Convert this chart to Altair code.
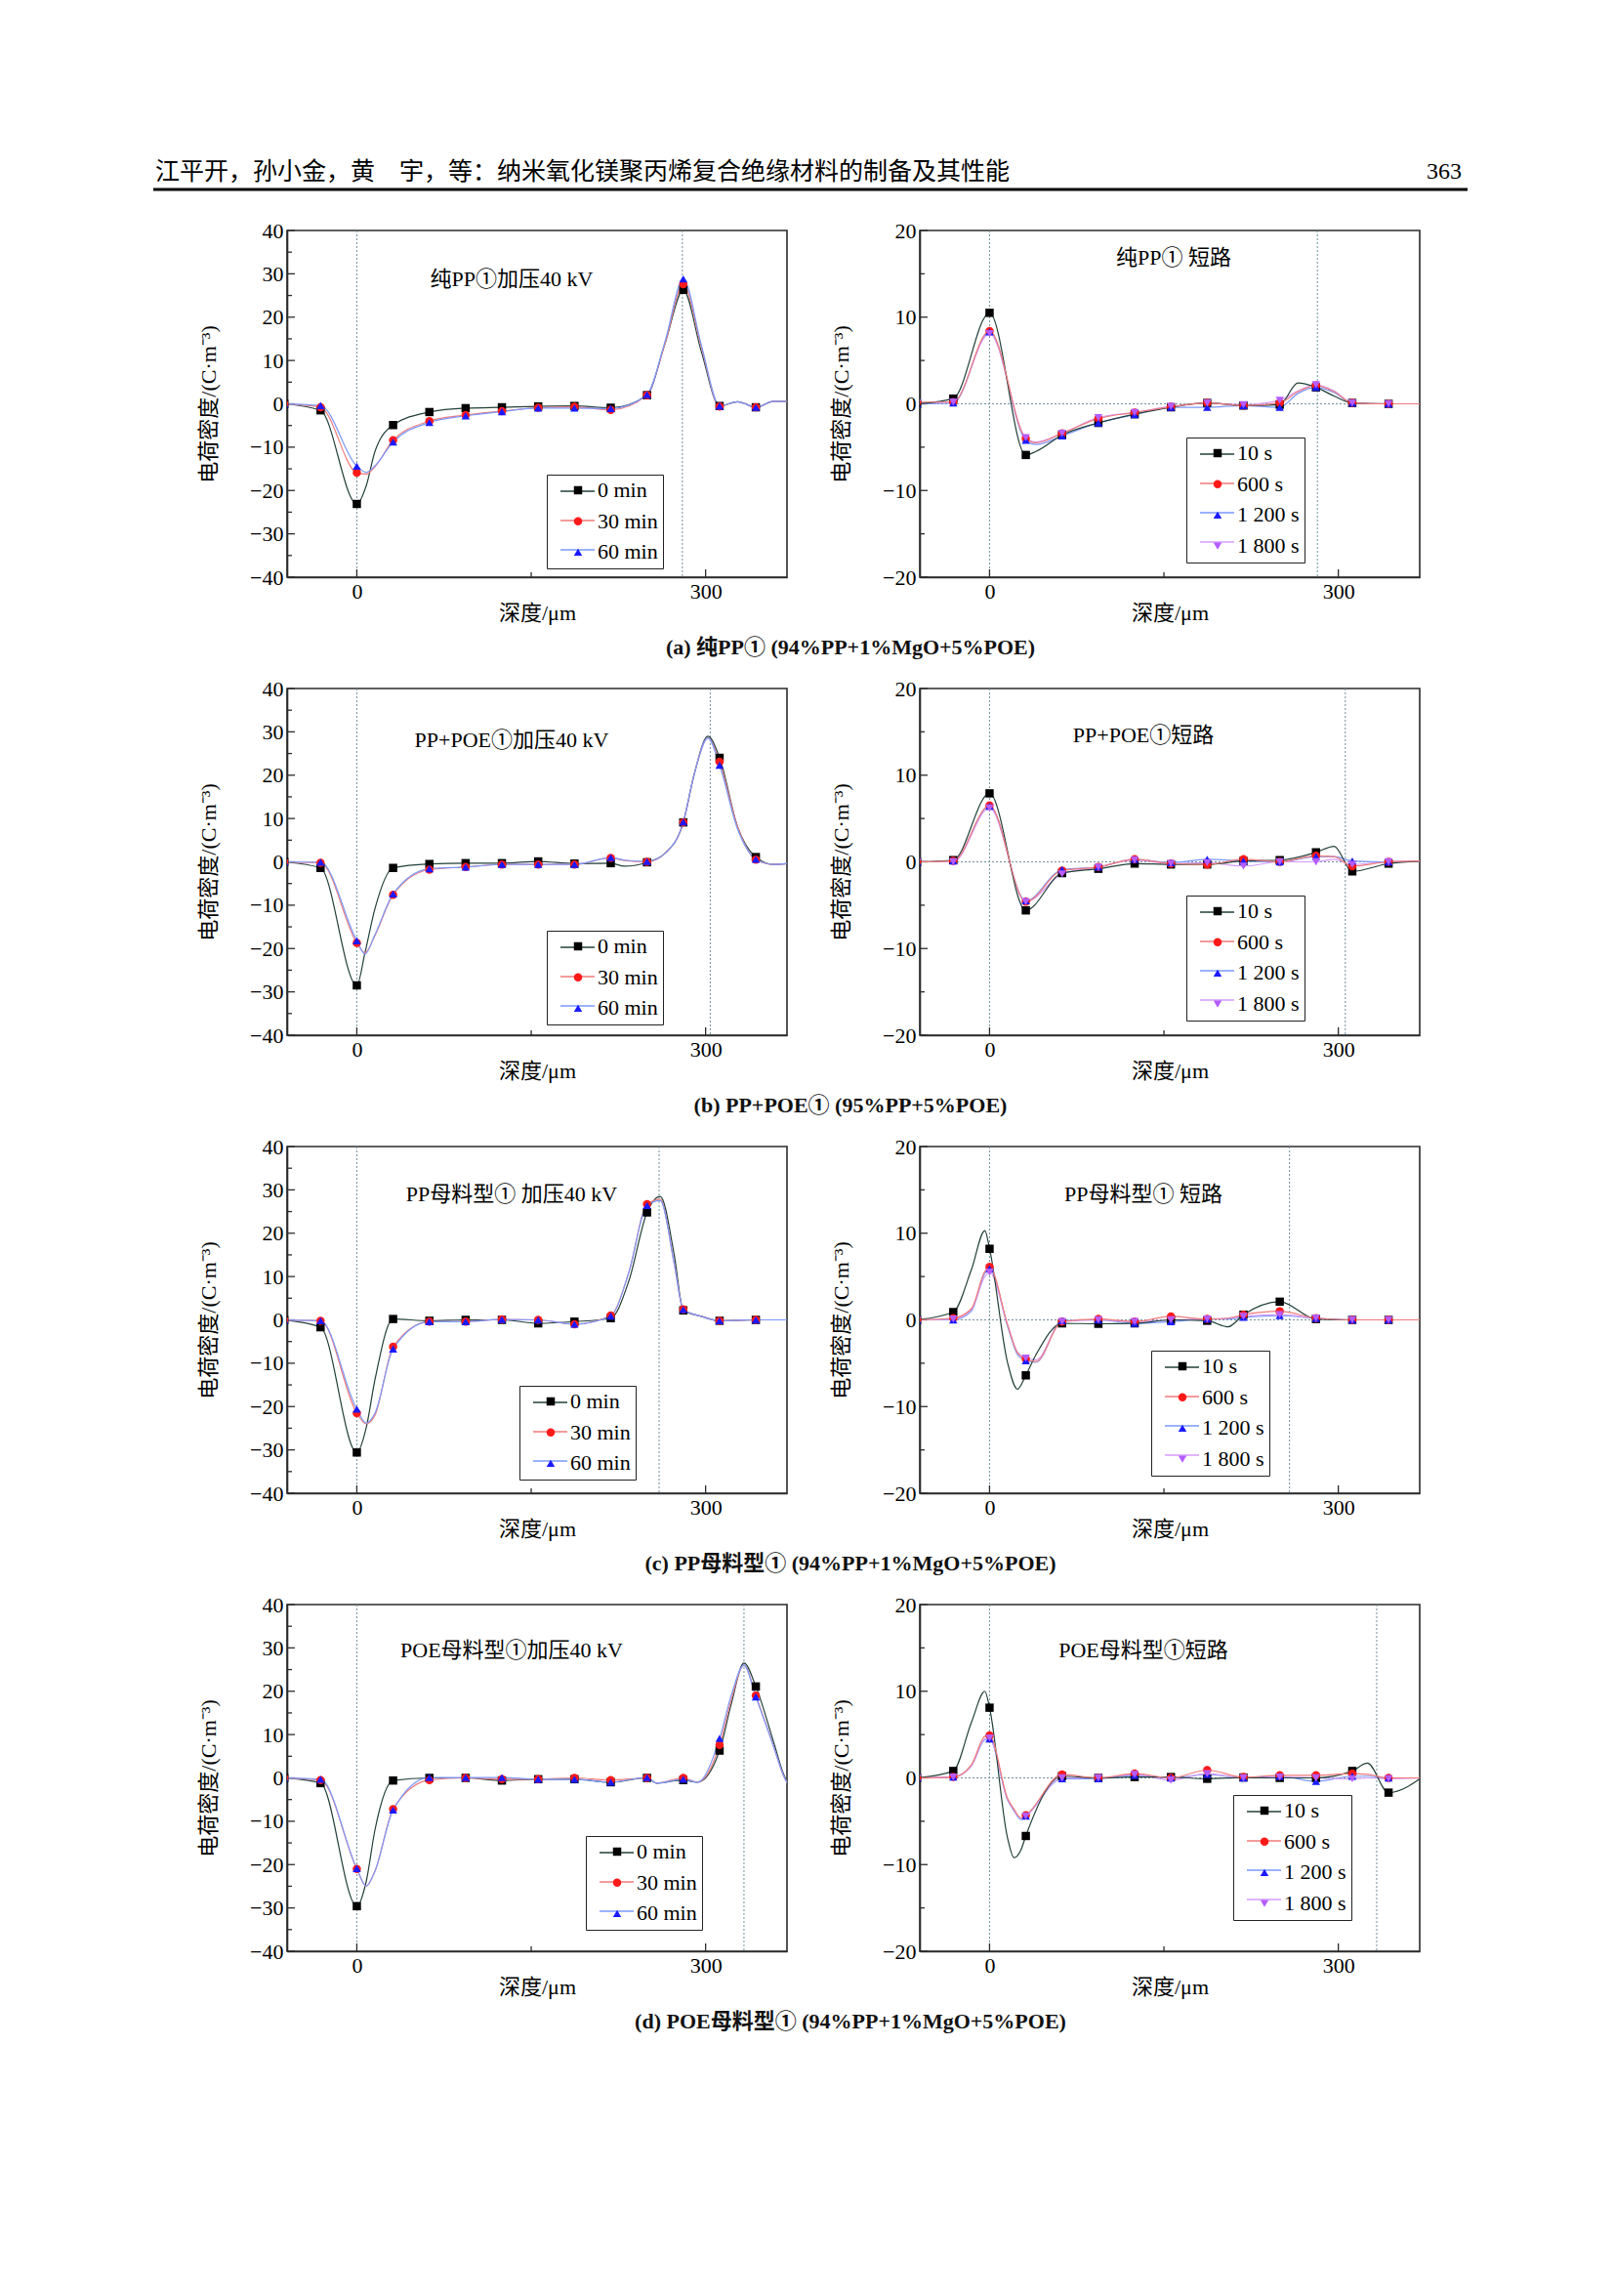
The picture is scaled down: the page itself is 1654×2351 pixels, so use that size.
import altair as alt
import pandas as pd

# depth positions of the plotted markers (µm)
X = [-62.4, -31.2, 0, 31.2, 62.4, 93.6, 124.8, 156, 187.2, 218.4, 249.6, 280.8, 312, 343.2, 374.4]

MIN_NAMES = ["0 min", "30 min", "60 min"]
SEC_NAMES = ["10 s", "600 s", "1 200 s", "1 800 s"]

# ---------- (a) 纯PP① ----------
a_left_0min = [0, -1.5, -23.1, -4.9, -1.9, -1.0, -0.8, -0.6, -0.5, -0.9, 2.0, 26.3, -0.5, -0.8, 0.5]
a_left_30min = [0, -0.8, -15.9, -8.4, -4.0, -2.6, -1.7, -0.9, -0.7, -1.4, 2.0, 27.6, -0.6, -0.8, 0.5]
a_left_60min = [0, -0.4, -14.4, -8.8, -4.3, -2.8, -1.8, -1.0, -1.0, -1.1, 2.1, 28.8, -0.5, -0.8, 0.5]
# extra curve readings between markers
a_left_xx = [8, 15.6, 265.2, 296.4, 327.6, 358.8]
a_left_0min_xx = [-19, -11, 14, 12, 0.5, 0.6]
a_left_30min_xx = [-16.2, -14.5, 14, 13, 0.5, 0.6]
a_left_60min_xx = [-15.8, -14.3, 14.5, 13.5, 0.5, 0.6]

a_right_10s = [0, 0.6, 10.5, -5.9, -3.6, -2.2, -1.2, -0.4, 0.1, -0.2, -0.1, 1.9, 0.1, 0, 0]
a_right_600s = [0.2, 0.2, 8.4, -4.0, -3.4, -1.7, -1.0, -0.35, 0.1, -0.2, 0.1, 2.1, 0.1, 0, 0]
a_right_1200s = [0, 0.1, 8.3, -4.2, -3.7, -2.2, -1.25, -0.4, -0.4, -0.2, -0.4, 1.9, 0.1, 0, 0]
a_right_1800s = [0.1, 0.2, 8.1, -3.9, -3.4, -1.6, -1.0, -0.3, 0.1, -0.1, 0.4, 2.2, 0.1, 0, 0]
a_right_xx = [40, 265.2, 296.4]
a_right_10s_xx = [-5.5, 2.4, 0.9]
a_right_600s_xx = [-4.5, 1.4, 1.4]
a_right_1200s_xx = [-4.7, 1.2, 1.3]
a_right_1800s_xx = [-4.4, 1.5, 1.5]

# ---------- (b) PP+POE① ----------
b_left_0min = [0, -1.4, -28.5, -1.4, -0.5, -0.3, -0.3, 0.1, -0.4, -0.3, -0.1, 9.1, 24.0, 1.1, -0.3]
b_left_30min = [0, -0.2, -18.7, -7.6, -1.8, -1.2, -0.6, -0.6, -0.6, 0.9, 0, 9.1, 23.1, 0.5, -0.3]
b_left_60min = [0, -0.1, -18.2, -7.4, -1.6, -1.2, -0.6, -0.6, -0.6, 1.0, 0.1, 9.2, 22.3, 0.6, -0.3]
b_left_xx = [7, 15.6, 230, 265.2, 290, 302, 327.6, 358.8]
b_left_0min_xx = [-21, -10.8, -1.0, 2, 20, 29, 8, -0.6]
b_left_30min_xx = [-21, -17, 0.3, 2, 20, 28.6, 8, -0.6]
b_left_60min_xx = [-21.3, -16.8, 0.4, 2, 20, 28.6, 7.5, -0.6]

b_right_10s = [0, 0.2, 7.9, -5.6, -1.3, -0.8, -0.2, -0.3, -0.3, 0.1, 0.2, 1.1, -1.1, -0.2, 0.1]
b_right_600s = [0, 0.1, 6.5, -4.6, -1.0, -0.6, 0.3, -0.2, -0.3, 0.3, 0, 0.7, -0.5, 0, 0.1]
b_right_1200s = [0, 0.1, 6.4, -4.5, -0.9, -0.6, 0.3, -0.1, 0.3, 0.1, 0, 0.6, 0.1, 0, 0.1]
b_right_1800s = [0, 0.0, 6.2, -4.6, -1.4, -0.6, 0.2, -0.2, -0.1, -0.5, 0, 0, -0.3, 0, 0.1]
b_right_xx = [296.4]
b_right_10s_xx = [1.8]
b_right_600s_xx = [0.6]
b_right_1200s_xx = [0.6]
b_right_1800s_xx = [0.3]

# ---------- (c) PP母料型① ----------
c_left_0min = [0, -1.7, -30.6, 0.2, -0.2, 0, 0, -0.8, -0.4, 0.4, 24.8, 2.2, -0.2, 0, 0]
c_left_30min = [0, -0.2, -21.5, -6.2, -0.4, -0.4, 0.1, 0, -1.0, 1.0, 26.7, 2.4, -0.2, 0, 0]
c_left_60min = [0, -0.2, -20.6, -6.7, -0.4, -0.4, 0.1, 0, -1.0, 0.9, 26.4, 2.4, -0.2, 0, 0]
c_left_xx = [8, 15.6, 234, 261, 273, 296.4]
c_left_0min_xx = [-25, -13.8, 9, 28.5, 15, 0.8]
c_left_30min_xx = [-24, -22, 11, 27.8, 13, 0.8]
c_left_60min_xx = [-23.8, -21.5, 11, 27.5, 13, 0.8]

c_right_10s = [0, 0.9, 8.2, -6.4, -0.4, -0.45, -0.4, 0, -0.1, 0.6, 2.1, 0.1, 0, 0, 0]
c_right_600s = [0, 0.2, 6.1, -4.5, -0.2, 0.1, -0.2, 0.4, 0.1, 0.6, 1.0, 0.2, 0, 0, 0]
c_right_1200s = [0, 0, 5.9, -4.7, -0.1, 0, -0.4, -0.2, 0.1, 0.3, 0.5, 0.2, 0, 0, 0]
c_right_1800s = [0, 0.1, 5.5, -4.4, -0.2, 0, -0.2, 0, 0.1, 0.4, 0.6, 0.2, 0, 0, 0]
c_right_xx = [-15.6, -4, 15.6, 24, 40, 205]
c_right_10s_xx = [5.8, 10.3, -5, -8.0, -4.0, -0.8]
c_right_600s_xx = [1.3, 5.6, -0.6, -3.8, -4.8, 0.2]
c_right_1200s_xx = [1.0, 5.4, -0.8, -4.0, -4.9, 0.1]
c_right_1800s_xx = [1.2, 5.0, -0.6, -3.7, -4.6, 0.2]

# ---------- (d) POE母料型① ----------
d_left_0min = [0, -1.2, -29.6, -0.6, 0, 0, -0.6, -0.3, -0.3, -1.0, 0, -0.5, 6.3, 21.1, -3]
d_left_30min = [0, -0.5, -21.0, -7.2, -0.5, 0, -0.3, -0.3, 0, -0.5, 0, 0, 7.6, 19.0, -3]
d_left_60min = [0, -0.3, -20.9, -7.4, 0.1, 0.1, 0.1, -0.3, -0.3, -1.0, 0.1, -0.3, 9.1, 18.7, -3]
d_left_xx = [8, 15.6, 258, 293, 322, 333, 358.8, 366.6]
d_left_0min_xx = [-24, -12, -1.2, -1.0, 17, 26.5, 8, 1.2]
d_left_30min_xx = [-25, -21.5, -1.2, -1.0, 18, 26, 7, 0.8]
d_left_60min_xx = [-25, -21.5, -1.2, -1.0, 19, 26, 7, 0.8]

d_right_10s = [0, 0.8, 8.1, -6.7, 0.2, 0, 0.1, 0.1, -0.1, 0.05, 0, 0, 0.8, -1.7, 0.3]
d_right_600s = [0, 0.1, 4.9, -4.3, 0.4, 0, 0.5, 0, 0.9, 0.1, 0.3, 0.3, 0.5, 0, 0]
d_right_1200s = [0, 0.1, 4.5, -4.4, -0.1, -0.1, 0.3, 0, 0.4, 0, 0.2, -0.4, 0.2, 0, 0]
d_right_1800s = [0, 0.1, 4.6, -4.4, 0, 0, 0.4, -0.25, 0.5, 0, 0.1, 0, -0.1, -0.1, 0]
d_right_xx = [-15.6, -4, 15.6, 21, 27, 325]
d_right_10s_xx = [6.4, 10.0, -7, -9.2, -8.3, 1.7]
d_right_600s_xx = [1.5, 4.8, -2.4, -3.6, -4.6, 0.4]
d_right_1200s_xx = [1.4, 4.4, -2.6, -3.8, -4.8, 0.2]
d_right_1800s_xx = [1.4, 4.5, -2.5, -3.7, -4.7, 0.0]

HEADER = "江平开，孙小金，黄　宇，等：纳米氧化镁聚丙烯复合绝缘材料的制备及其性能"
PAGE_NO = "363"
CAPTIONS = [
    "(a) 纯PP① (94%PP+1%MgO+5%POE)",
    "(b) PP+POE① (95%PP+5%POE)",
    "(c) PP母料型① (94%PP+1%MgO+5%POE)",
    "(d) POE母料型① (94%PP+1%MgO+5%POE)",
]

SERIF = "Liberation Serif, Noto Sans CJK SC"
FRAME = "#2b2b2b"
PT_COLORS = ["#000000", "#ff1a1a", "#1a1aff", "#b45cff"]
LN_COLORS = ["#22403a", "#f07a7a", "#7a98ff", "#d49cff"]
SHAPES = ["square", "circle", "triangle-up", "triangle-down"]
W, H = 512, 355
FS = 22
LINE_SAMPLE = 35  # length of the line sample in the legend (px)

panels = [
    dict(title="纯PP①加压40 kV", names=MIN_NAMES, vals=[a_left_0min, a_left_30min, a_left_60min],
         xx=a_left_xx, xv=[a_left_0min_xx, a_left_30min_xx, a_left_60min_xx],
         elec=280, ydom=[-40, 40], hline=False, leg=(266, 250), tpos=(230, 50), cap=0, header=True),
    dict(title="纯PP① 短路", names=SEC_NAMES, vals=[a_right_10s, a_right_600s, a_right_1200s, a_right_1800s],
         xx=a_right_xx, xv=[a_right_10s_xx, a_right_600s_xx, a_right_1200s_xx, a_right_1800s_xx],
         elec=282, ydom=[-20, 20], hline=True, leg=(273, 212), tpos=(260, 28)),
    dict(title="PP+POE①加压40 kV", names=MIN_NAMES, vals=[b_left_0min, b_left_30min, b_left_60min],
         xx=b_left_xx, xv=[b_left_0min_xx, b_left_30min_xx, b_left_60min_xx],
         elec=304, ydom=[-40, 40], hline=False, leg=(266, 248), tpos=(230, 53), cap=1),
    dict(title="PP+POE①短路", names=SEC_NAMES, vals=[b_right_10s, b_right_600s, b_right_1200s, b_right_1800s],
         xx=b_right_xx, xv=[b_right_10s_xx, b_right_600s_xx, b_right_1200s_xx, b_right_1800s_xx],
         elec=306, ydom=[-20, 20], hline=True, leg=(273, 212), tpos=(229, 48)),
    dict(title="PP母料型① 加压40 kV", names=MIN_NAMES, vals=[c_left_0min, c_left_30min, c_left_60min],
         xx=c_left_xx, xv=[c_left_0min_xx, c_left_30min_xx, c_left_60min_xx],
         elec=260, ydom=[-40, 40], hline=False, leg=(238, 245), tpos=(230, 49), cap=2),
    dict(title="PP母料型① 短路", names=SEC_NAMES, vals=[c_right_10s, c_right_600s, c_right_1200s, c_right_1800s],
         xx=c_right_xx, xv=[c_right_10s_xx, c_right_600s_xx, c_right_1200s_xx, c_right_1800s_xx],
         elec=258, ydom=[-20, 20], hline=True, leg=(237, 209), tpos=(229, 49)),
    dict(title="POE母料型①加压40 kV", names=MIN_NAMES, vals=[d_left_0min, d_left_30min, d_left_60min],
         xx=d_left_xx, xv=[d_left_0min_xx, d_left_30min_xx, d_left_60min_xx],
         elec=333, ydom=[-40, 40], hline=False, leg=(306, 237), tpos=(230, 47), cap=3),
    dict(title="POE母料型①短路", names=SEC_NAMES, vals=[d_right_10s, d_right_600s, d_right_1200s, d_right_1800s],
         xx=d_right_xx, xv=[d_right_10s_xx, d_right_600s_xx, d_right_1200s_xx, d_right_1800s_xx],
         elec=333, ydom=[-20, 20], hline=True, leg=(321, 195), tpos=(229, 47)),
]


def one_text(txt):
    return alt.Chart(pd.DataFrame({"t": [txt]}))


def make_panel(p):
    names = p["names"]
    lnames = [nm + "\u200b" for nm in names]  # separate key for line-sample legend
    mrows, lrows = [], []
    for k, (name, vals, extra) in enumerate(zip(names, p["vals"], p["xv"])):
        for xv, yv in zip(X, vals):
            mrows.append({"x": xv, "y": yv, "s": name})
            lrows.append({"x": xv, "y": yv, "sl": lnames[k]})
        for xv, yv in zip(p["xx"], extra):
            lrows.append({"x": xv, "y": yv, "sl": lnames[k]})
    mdf = pd.DataFrame(mrows)
    ldf = pd.DataFrame(lrows).sort_values(["sl", "x"], kind="stable")
    n = len(names)
    lo, hi = p["ydom"]
    xs = alt.Scale(domain=[-60, 370], nice=False, zero=False)
    ys = alt.Scale(domain=[lo, hi], nice=False, zero=False)
    xaxis = alt.Axis(values=[0, 150, 300], labelExpr="datum.value == 150 ? '' : datum.label",
                     title="深度/μm", grid=False, ticks=False, labelPadding=4, titlePadding=1,
                     labelOverlap=False, labelFlush=False)
    yaxis = alt.Axis(values=list(range(lo, hi + 1, 10)),
                     labelExpr="replace(datum.label, '-', '\u2212')",
                     title="电荷密度/(C·m⁻³)", grid=False, ticks=False, labelPadding=4, titlePadding=30,
                     labelOverlap=False, labelFlush=False)
    lx, ly = p["leg"]
    row_step = 31.7
    leg_pts = alt.Legend(orient="none", legendX=lx, legendY=ly, title=None, padding=5,
                         rowPadding=row_step - FS, labelFont=SERIF, labelFontSize=FS,
                         strokeColor="#222222", symbolOffset=16, labelOffset=9, symbolSize=72,
                         labelColor="black")
    leg_line = alt.Legend(orient="none", legendX=lx, legendY=ly - (LINE_SAMPLE - FS) / 2, title=None,
                          padding=5, rowPadding=row_step - LINE_SAMPLE, labelFont=SERIF,
                          labelFontSize=FS, symbolType="stroke", symbolSize=LINE_SAMPLE ** 2,
                          symbolStrokeWidth=1.3, symbolOffset=8, labelExpr="''")
    line = alt.Chart(ldf).mark_line(interpolate="monotone", strokeWidth=1.2, clip=True).encode(
        x=alt.X("x:Q", scale=xs, axis=xaxis),
        y=alt.Y("y:Q", scale=ys, axis=yaxis),
        stroke=alt.Stroke("sl:N", scale=alt.Scale(domain=lnames, range=LN_COLORS[:n]), legend=leg_line),
        order=alt.Order("x:Q"),
    )
    pts = alt.Chart(mdf).mark_point(filled=True, size=72, opacity=1, clip=True).encode(
        x=alt.X("x:Q"),
        y=alt.Y("y:Q"),
        color=alt.Color("s:N", scale=alt.Scale(domain=names, range=PT_COLORS[:n]), legend=leg_pts),
        shape=alt.Shape("s:N", scale=alt.Scale(domain=names, range=SHAPES[:n]), legend=leg_pts),
    )
    # dotted electrode lines
    vr = alt.Chart(pd.DataFrame({"x": [0, p["elec"]]})).mark_rule(
        color="#6f8f9c", strokeWidth=1, strokeDash=[2, 2]).encode(x="x:Q")
    layers = [vr]
    if p["hline"]:
        hr = alt.Chart(pd.DataFrame({"y": [0]})).mark_rule(
            color="#6f8f9c", strokeWidth=1, strokeDash=[2, 2]).encode(y="y:Q")
        layers.append(hr)
    # inward ticks
    ymaj = pd.DataFrame({"y": list(range(lo, hi + 1, 10))})
    ymin = pd.DataFrame({"y": list(range(lo + 5, hi, 10))})
    xmaj = pd.DataFrame({"x": [0, 300]})
    xmin = pd.DataFrame({"x": [150]})
    layers += [
        alt.Chart(ymaj).mark_rule(color=FRAME, strokeWidth=1.3).encode(
            y="y:Q", x=alt.value(0), x2=alt.value(8)),
        alt.Chart(ymin).mark_rule(color=FRAME, strokeWidth=1.3).encode(
            y="y:Q", x=alt.value(0), x2=alt.value(5)),
        alt.Chart(xmaj).mark_rule(color=FRAME, strokeWidth=1.3).encode(
            x="x:Q", y=alt.value(H), y2=alt.value(H - 8)),
        alt.Chart(xmin).mark_rule(color=FRAME, strokeWidth=1.3).encode(
            x="x:Q", y=alt.value(H), y2=alt.value(H - 5)),
    ]
    layers += [line, pts]
    ttl = one_text(p["title"]).mark_text(font=SERIF, fontSize=FS, align="center", baseline="middle",
                                         color="black").encode(
        text="t:N", x=alt.value(p["tpos"][0]), y=alt.value(p["tpos"][1]))
    layers.append(ttl)
    if "cap" in p:
        cap = one_text(CAPTIONS[p["cap"]]).mark_text(font=SERIF, fontSize=22, fontWeight="bold",
                                                     align="center", baseline="middle",
                                                     color="#111111").encode(
            text="t:N", x=alt.value(577), y=alt.value(427))
        layers.append(cap)
    if p.get("header"):
        h1 = one_text(HEADER).mark_text(font="Noto Sans CJK SC", fontSize=25, align="left",
                                        baseline="middle", color="black").encode(
            text="t:N", x=alt.value(-135), y=alt.value(-60))
        h2 = one_text(PAGE_NO).mark_text(font=SERIF, fontSize=24, align="right",
                                         baseline="middle", color="black").encode(
            text="t:N", x=alt.value(1203), y=alt.value(-60))
        hrule = alt.Chart(pd.DataFrame({"a": [0]})).mark_rule(color="black", strokeWidth=3).encode(
            x=alt.value(-137), x2=alt.value(1209), y=alt.value(-42))
        layers += [h1, h2, hrule]
    return alt.layer(*layers).properties(width=W, height=H)


chart = alt.concat(
    *[make_panel(p) for p in panels],
    columns=2, spacing={"row": 114, "column": 136}, bounds="flush",
).resolve_scale(
    color="independent", shape="independent", stroke="independent",
    x="independent", y="independent"
).resolve_legend(
    color="independent", shape="independent", stroke="independent"
).properties(
    padding={"left": 146, "top": 155, "right": 60, "bottom": 60},
    background="white",
).configure_view(
    stroke=FRAME, strokeWidth=1.6
).configure_axis(
    labelFont=SERIF, titleFont=SERIF, labelFontSize=FS, titleFontSize=FS,
    titleFontWeight="normal", labelColor="black", titleColor="black",
    domainColor=FRAME, domainWidth=1.6,
)

chart.save("out.html", embed_options={"renderer": "svg", "actions": False})
